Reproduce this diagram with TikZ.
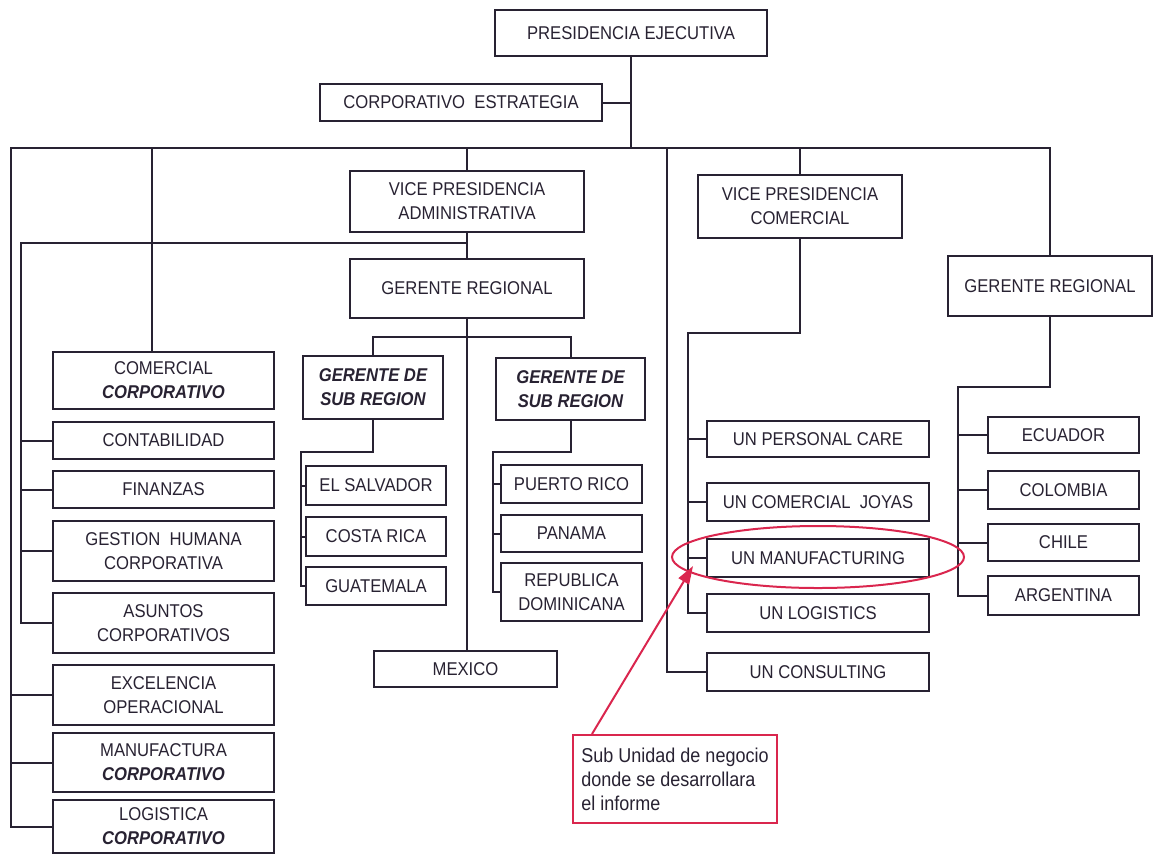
\documentclass[tikz,border=0pt]{standalone}
\usepackage{fontspec}
\setmainfont{Liberation Sans}[FakeStretch=0.9]
\usetikzlibrary{arrows.meta,calc}
\definecolor{ink}{RGB}{40,34,50}
\definecolor{hl}{RGB}{218,38,78}
\tikzset{
  box/.style={draw=ink, line width=2pt, fill=white, inner sep=0pt, align=center, text=ink, font=\fontsize{18.5}{24}\selectfont},
  wire/.style={draw=ink, line width=2pt},
  hlline/.style={draw=hl, line width=2pt},
}
\newcommand{\BIx}[1]{{\bfseries\itshape #1}}
\newcommand{\orgbox}[6]{\node[box, minimum width={(#4-#2)*1pt}, minimum height={(#5-#3)*1pt}] (#1) at ({(#2+#4)/2},{(#3+#5)/2}) {#6};}
\begin{document}
\begin{tikzpicture}[x=1pt,y=-1pt]
\useasboundingbox (0,0) rectangle (1155,855);
% top
\orgbox{pres}{495}{10}{767}{56}{PRESIDENCIA EJECUTIVA}
\orgbox{estr}{320}{84}{602}{121}{CORPORATIVO\ \ ESTRATEGIA}
\orgbox{vpa}{350}{171}{584}{232}{VICE PRESIDENCIA\\ADMINISTRATIVA}
\orgbox{grm}{350}{259}{584}{318}{GERENTE REGIONAL}
\orgbox{vpc}{698}{175}{902}{238}{VICE PRESIDENCIA\\COMERCIAL}
\orgbox{grr}{948}{256}{1152}{316}{GERENTE REGIONAL}
% sub regions
\orgbox{gdsa}{303}{356}{443}{419}{\BIx{GERENTE DE}\\\BIx{SUB REGION}}
\orgbox{gdsb}{496}{358}{645}{420}{\BIx{GERENTE DE}\\\BIx{SUB REGION}}
\orgbox{els}{306}{466}{446}{505}{EL SALVADOR}
\orgbox{cr}{306}{517}{446}{556}{COSTA RICA}
\orgbox{gua}{306}{567}{446}{605}{GUATEMALA}
\orgbox{pr}{501}{465}{642}{503}{PUERTO RICO}
\orgbox{pan}{501}{515}{642}{552}{PANAMA}
\orgbox{rd}{501}{563}{642}{621}{REPUBLICA\\DOMINICANA}
\orgbox{mex}{374}{651}{557}{687}{MEXICO}
% left column
\orgbox{com}{53}{352}{274}{409}{COMERCIAL\\\BIx{CORPORATIVO}}
\orgbox{cont}{53}{422}{274}{459}{CONTABILIDAD}
\orgbox{fin}{53}{471}{274}{508}{FINANZAS}
\orgbox{ges}{53}{521}{274}{581}{GESTION\ \ HUMANA\\CORPORATIVA}
\orgbox{asu}{53}{593}{274}{653}{ASUNTOS\\CORPORATIVOS}
\orgbox{exc}{53}{665}{274}{725}{EXCELENCIA\\OPERACIONAL}
\orgbox{man}{53}{733}{274}{792}{MANUFACTURA\\\BIx{CORPORATIVO}}
\orgbox{log}{53}{800}{274}{853}{LOGISTICA\\\BIx{CORPORATIVO}}
% UN column
\orgbox{upc}{707}{421}{929}{457}{UN PERSONAL CARE}
\orgbox{ujo}{707}{483}{929}{521}{UN COMERCIAL\ \ JOYAS}
\orgbox{uma}{707}{539}{929}{577}{UN MANUFACTURING}
\orgbox{ulo}{707}{594}{929}{632}{UN LOGISTICS}
\orgbox{uco}{707}{653}{929}{691}{UN CONSULTING}
% countries
\orgbox{ecu}{988}{417}{1139}{453}{ECUADOR}
\orgbox{col}{988}{471}{1139}{509}{COLOMBIA}
\orgbox{chi}{988}{524}{1139}{561}{CHILE}
\orgbox{arg}{988}{576}{1139}{615}{ARGENTINA}
% coordinates
\coordinate (busL) at (11,148);
\coordinate (pbus) at (631,148);
\coordinate (c1) at (152,148);
\coordinate (innL) at (21,243);
\coordinate (c2) at (667,148);
\coordinate (c3) at (688,333);
\coordinate (c4) at (958,387);
\coordinate (c5) at (467,337);
\coordinate (c6) at (301,452);
\coordinate (c7) at (493,452);
% connectors
\draw[wire] (pres.south) -- (pbus);
\draw[wire] (estr.east) -- (estr.east -| pbus);
\draw[wire] (grr.north) |- (busL) |- (log.west);
\draw[wire] (exc.west) -- (busL |- exc.west);
\draw[wire] (man.west) -- (busL |- man.west);
\draw[wire] (c1) -- (c1 |- com.north);
\draw[wire] (vpa.north) -- (vpa.north |- busL);
\draw[wire] (vpa.south) -- (grm.north);
\draw[wire] (vpa.south |- innL) -- (innL) |- (asu.west);
\draw[wire] (cont.west) -- (innL |- cont.west);
\draw[wire] (fin.west) -- (innL |- fin.west);
\draw[wire] (ges.west) -- (innL |- ges.west);
\draw[wire] (c2) |- (uco.west);
\draw[wire] (vpc.north) -- (vpc.north |- busL);
\draw[wire] (vpc.south) |- (c3) |- (ulo.west);
\draw[wire] (upc.west) -- (c3 |- upc.west);
\draw[wire] (ujo.west) -- (c3 |- ujo.west);
\draw[wire] (uma.west) -- (c3 |- uma.west);
\draw[wire] (grr.south) |- (c4) |- (arg.west);
\draw[wire] (ecu.west) -- (c4 |- ecu.west);
\draw[wire] (col.west) -- (c4 |- col.west);
\draw[wire] (chi.west) -- (c4 |- chi.west);
\draw[wire] (grm.south) -- (grm.south |- mex.north);
\draw[wire] (gdsa.north) |- (c5) -| (gdsb.north);
\draw[wire] (gdsa.south) |- (c6) |- (gua.west);
\draw[wire] (els.west) -- (c6 |- els.west);
\draw[wire] (cr.west) -- (c6 |- cr.west);
\draw[wire] (gdsb.south) |- (c7) |- (rd.west);
\draw[wire] (pr.west) -- (c7 |- pr.west);
\draw[wire] (pan.west) -- (c7 |- pan.west);
% highlight
\draw[hlline] (818,557) ellipse [x radius=146pt, y radius=31pt];
\node[draw=hl, line width=2pt, fill=white, text=ink, inner sep=0pt, minimum width=204pt, minimum height=88pt, align=left, font=\fontsize{20}{24}\selectfont] (note) at (675,779) {Sub Unidad de negocio\\donde se desarrollara\\el informe};
\coordinate (tip) at (693,566);
\draw[hlline, -{Triangle[length=18pt,width=12pt]}] ($(note.north west)+(20,0)$) -- (tip);
\end{tikzpicture}
\end{document}
